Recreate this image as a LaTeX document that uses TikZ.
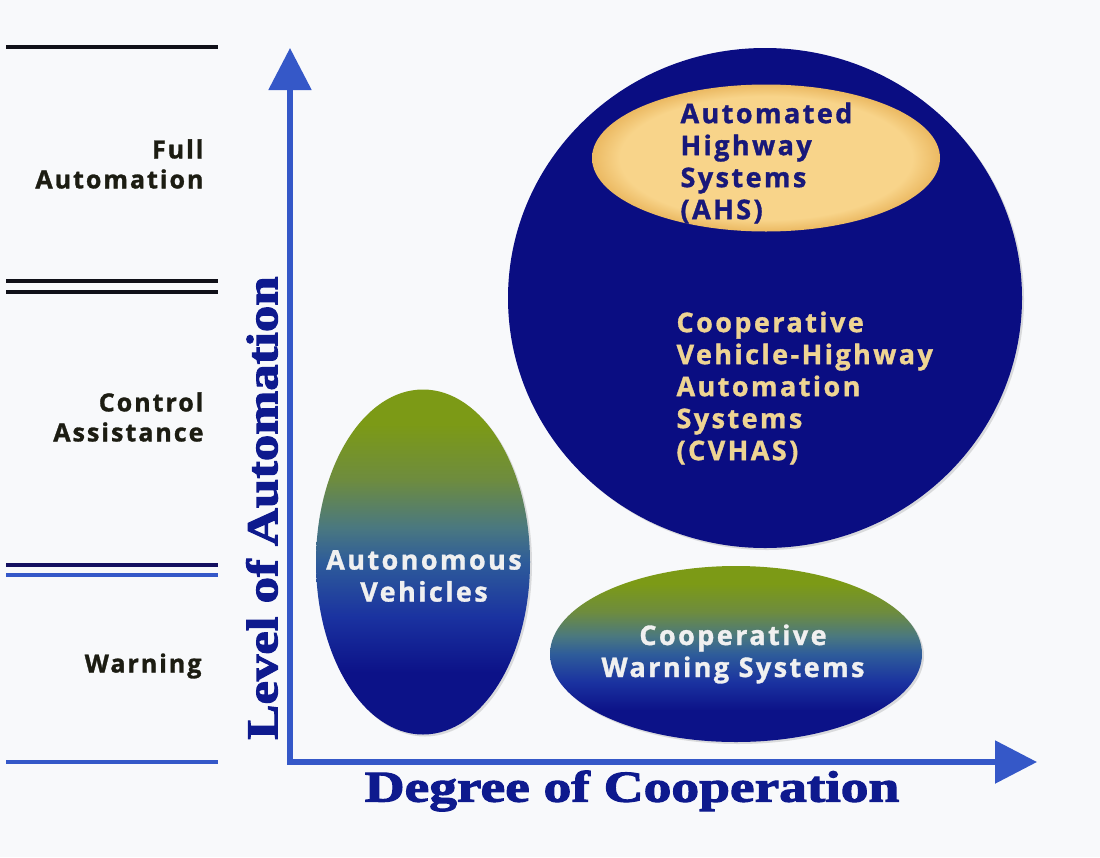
\documentclass[tikz,border=0pt]{standalone}
\usepackage{fontspec}
\usetikzlibrary{shapes.geometric,arrows.meta,shadows}
\newfontfamily\lab[LetterSpace=8, BoldFeatures={FakeBold=1.2}]{Open Sans}
\newfontfamily\labin[LetterSpace=9, BoldFeatures={FakeBold=1.2}]{Open Sans}
\newfontfamily\axisfont[UprightFont={* Bold},FakeStretch=1.2,FakeBold=2.5]{Liberation Serif}
\definecolor{bgcol}{HTML}{F8F9FB}
\definecolor{navy}{HTML}{0A0D82}
\definecolor{axisblue}{HTML}{3558C8}
\definecolor{tanfill}{HTML}{F8D48A}
\definecolor{tanrim}{HTML}{EBB962}
\definecolor{olive}{HTML}{7C9A16}
\definecolor{olivegrey}{HTML}{6E8C3E}
\definecolor{slate}{HTML}{4A7880}
\definecolor{steel}{HTML}{2E5C9A}
\definecolor{midblue}{HTML}{1A32A0}
\definecolor{deepnavy}{HTML}{0C1288}
\definecolor{cream}{HTML}{EED493}
\definecolor{textdark}{HTML}{1C1C12}
\definecolor{linedark}{HTML}{101018}
\definecolor{linenavy}{HTML}{141060}
\definecolor{textnavy}{HTML}{18187A}
\definecolor{axisnavy}{HTML}{0E1A8E}
\pgfdeclareverticalshading{greenblue}{100bp}{color(0bp)=(deepnavy); color(28bp)=(deepnavy); color(34bp)=(deepnavy); color(42bp)=(midblue); color(50bp)=(steel); color(55bp)=(slate); color(62bp)=(olivegrey); color(70bp)=(olive); color(100bp)=(olive)}
\pgfdeclareradialshading{tanglow}{\pgfpoint{0bp}{0bp}}{color(0bp)=(tanfill); color(21bp)=(tanfill); color(25bp)=(tanrim); color(50bp)=(tanrim)}
\tikzset{
  levelline/.style={line width=4.5pt},
  leftlabel/.style={anchor=east, align=right, text=textdark, font=\lab\bfseries\fontsize{25}{30}\selectfont},
  axisline/.style={line width=5.5pt, draw=axisblue, -{Triangle[length=42pt,width=42pt]}},
  axislabel/.style={text=axisnavy, font=\axisfont\fontsize{44}{44}\selectfont},
  blob/.style={ellipse, inner sep=0pt, drop shadow={shadow xshift=2pt, shadow yshift=-2pt, opacity=0.25}},
  intext/.style={align=center, font=\labin\bfseries\fontsize{27}{32}\selectfont}
}
\begin{document}
\begin{tikzpicture}[x=1pt,y=-1pt]
\fill[bgcol] (0,0) rectangle (1100,857);
\useasboundingbox (0,0) rectangle (1100,857);
% level lines
\coordinate (l1a) at (6,47);   \coordinate (l1b) at (218,47);
\coordinate (l2a) at (6,281);  \coordinate (l2b) at (218,281);
\coordinate (l3a) at (6,292);  \coordinate (l3b) at (218,292);
\coordinate (l4a) at (6,565);  \coordinate (l4b) at (218,565);
\coordinate (l5a) at (6,575);  \coordinate (l5b) at (218,575);
\coordinate (l6a) at (6,762);  \coordinate (l6b) at (218,762);
\draw[levelline, linedark] (l1a) -- (l1b);
\draw[levelline, linedark] (l2a) -- (l2b);
\draw[levelline, linedark] (l3a) -- (l3b);
\draw[levelline, linenavy] (l4a) -- (l4b);
\draw[levelline, axisblue] (l5a) -- (l5b);
\draw[levelline, axisblue, line width=4pt] (l6a) -- (l6b);
% level labels
\node[leftlabel] (full) at (207,164) {Full\\Automation};
\node[leftlabel] (ctrl) at (207,417) {Control\\Assistance};
\node[leftlabel] (warn) at (205,666) {Warning};
% ellipses
\node[blob, fill=navy, minimum width=514pt, minimum height=500pt] (cvhas) at (765,298) {};
\node[ellipse, inner sep=0pt, shading=tanglow, minimum width=348pt, minimum height=147pt] (ahs) at (766,158) {};
\node[blob, shading=greenblue, minimum width=214pt, minimum height=345pt] (auto) at (423,562) {};
\node[blob, shading=greenblue, minimum width=372pt, minimum height=176pt] (cws) at (736,654) {};
% ellipse texts
\node[intext, anchor=west, align=left, text=textnavy] (ahst) at (677,163) {Automated\\Highway\\Systems\\(AHS)};
\node[intext, anchor=west, align=left, text=cream] (cvhast) at (673,388) {Cooperative\\Vehicle-Highway\\Automation\\Systems\\(CVHAS)};
\node[intext, text=white!94!black] (autot) at (424,576) {Autonomous\\Vehicles};
\node[intext, text=white!94!black] (cwst) at (733,654) {Cooperative\\Warning Systems};
% axes
\coordinate (O) at (290,764.5);
\coordinate (Ox) at (287.5,762);
\coordinate (ytip) at (290,48);
\coordinate (xtip) at (1037,762);
\draw[axisline] (O) -- (ytip);
\draw[axisline] (Ox) -- (xtip);
\node[axislabel, rotate=90] (ylab) at (262,508) {Level of Automation};
\node[axislabel] (xlab) at (632,791) {\scalebox{1.05}[1]{Degree of Cooperation}};
\end{tikzpicture}
\end{document}
